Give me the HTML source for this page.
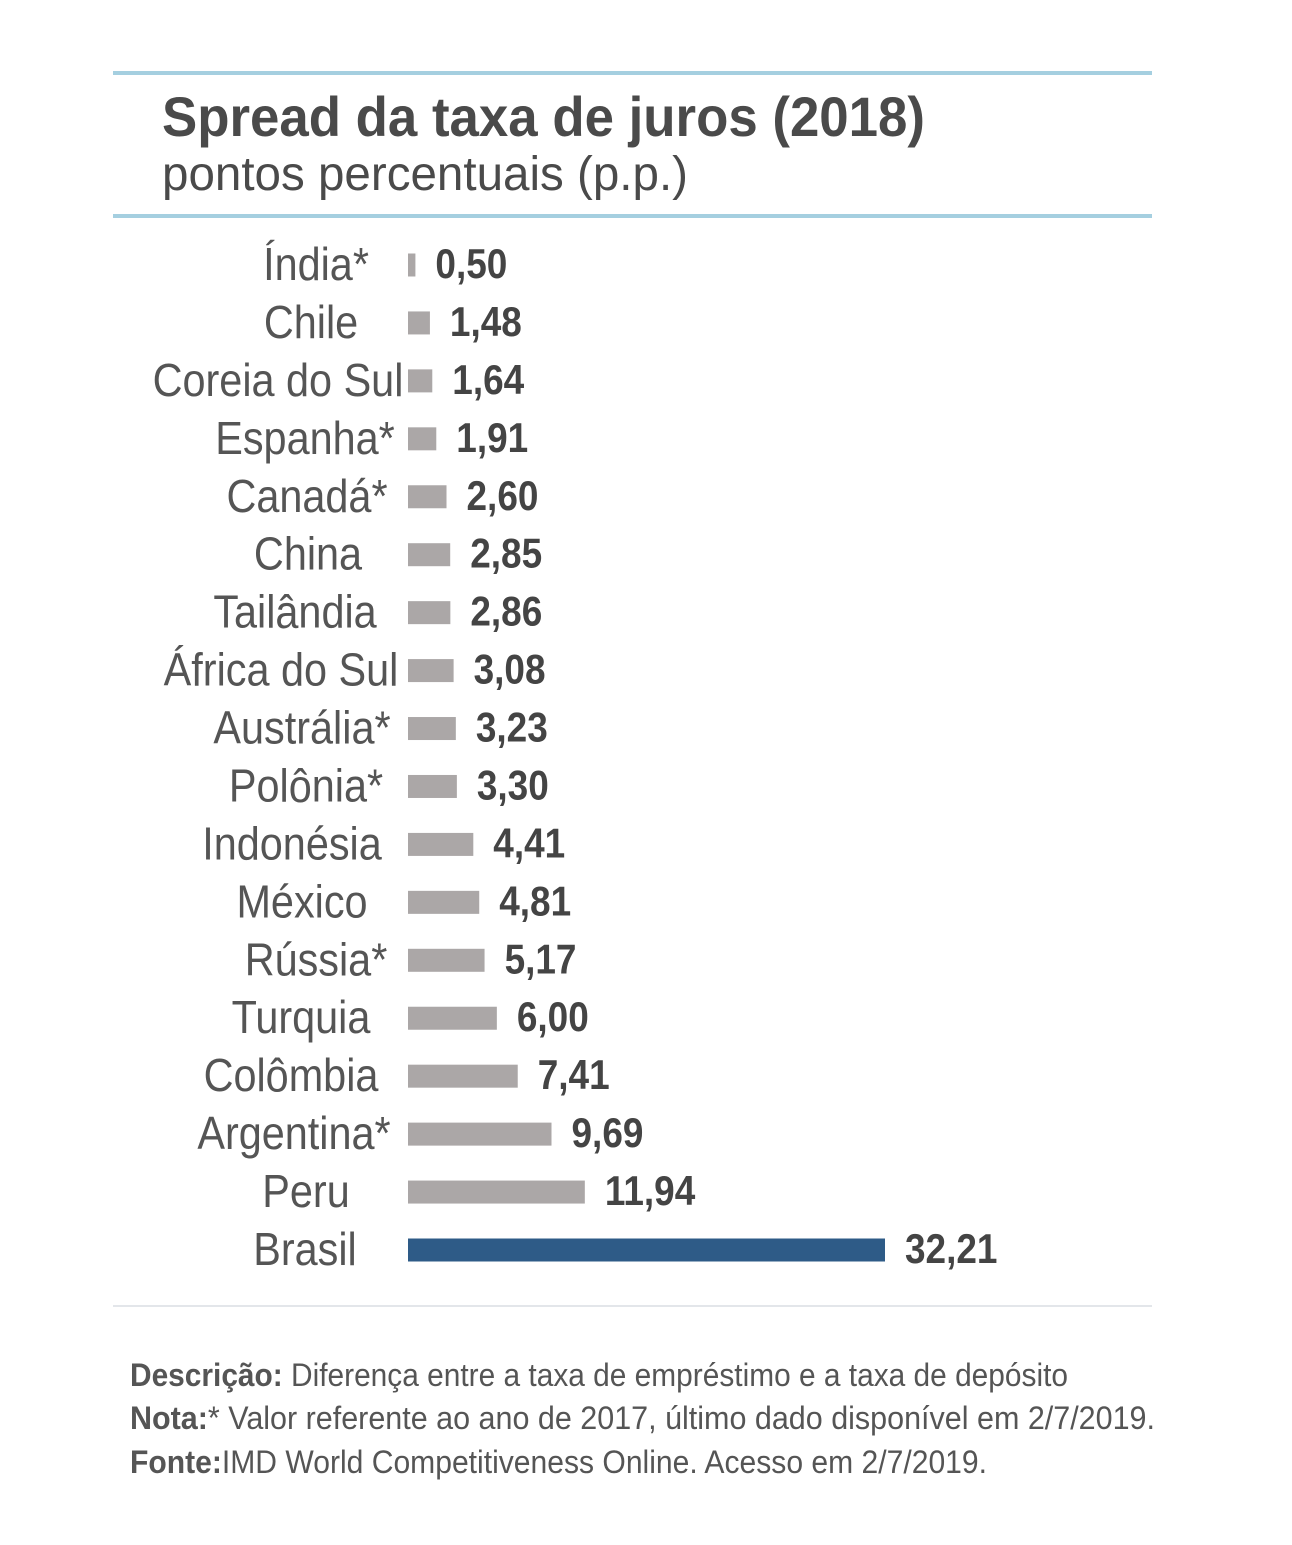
<!DOCTYPE html>
<html><head><meta charset="utf-8"><style>
html,body{margin:0;padding:0;background:#fff;}
svg{display:block;font-family:"Liberation Sans",sans-serif;}
</style></head><body>
<svg id="chart" width="1292" height="1545" viewBox="0 0 1292 1545" xmlns="http://www.w3.org/2000/svg">
<rect x="113" y="71" width="1039" height="4" fill="#a5cfe0"/>
<text x="162" y="136" font-size="56" font-weight="bold" fill="#4a4a4a" textLength="763" lengthAdjust="spacingAndGlyphs">Spread da taxa de juros (2018)</text>
<text x="162" y="190" font-size="48" fill="#4a4a4a" textLength="526" lengthAdjust="spacingAndGlyphs">pontos percentuais (p.p.)</text>
<rect x="113" y="214" width="1039" height="4" fill="#a5cfe0"/>
<g id="bars"></g>
<rect x="113" y="1305" width="1039" height="2" fill="#e3e6ea"/>
<text x="130" y="1386" font-size="32" fill="#555" textLength="938" lengthAdjust="spacingAndGlyphs"><tspan font-weight="bold">Descrição:</tspan>  Diferença entre a taxa de empréstimo e a taxa de depósito</text>
<text x="130" y="1429" font-size="32" fill="#555" textLength="1025" lengthAdjust="spacingAndGlyphs"><tspan font-weight="bold">Nota:</tspan>* Valor referente ao ano de 2017, último dado disponível em 2/7/2019.</text>
<text x="130" y="1473" font-size="32" fill="#555" textLength="857" lengthAdjust="spacingAndGlyphs"><tspan font-weight="bold">Fonte:</tspan>IMD World Competitiveness Online. Acesso em 2/7/2019.</text>
</svg>
<script>
const categories = ["Índia*","Chile","Coreia do Sul","Espanha*","Canadá*","China","Tailândia","África do Sul","Austrália*","Polônia*","Indonésia","México","Rússia*","Turquia","Colômbia","Argentina*","Peru","Brasil"];
const values = [0.50,1.48,1.64,1.91,2.60,2.85,2.86,3.08,3.23,3.30,4.41,4.81,5.17,6.00,7.41,9.69,11.94,32.21];
const valueLabels = ["0,50","1,48","1,64","1,91","2,60","2,85","2,86","3,08","3,23","3,30","4,41","4,81","5,17","6,00","7,41","9,69","11,94","32,21"];
const highlight = "Brasil";
// layout only: horizontal centre of each category label
const labelCenters = [316,311,278,305,307,308,295,281,302,306,292,302,316,301,291,294,306,305];

const NS = "http://www.w3.org/2000/svg";
const g = document.getElementById("bars");
const x0 = 408, pxPerUnit = 477 / 32.21;
const xScale = v => x0 + v * pxPerUnit;
const yScale = i => 265 + i * (1250 - 265) / 17;
const barH = 23;
categories.forEach((c, i) => {
  const yc = yScale(i);
  const r = document.createElementNS(NS, "rect");
  r.setAttribute("x", x0);
  r.setAttribute("y", yc - barH / 2);
  r.setAttribute("width", Math.max(1, xScale(values[i]) - x0));
  r.setAttribute("height", barH);
  r.setAttribute("fill", c === highlight ? "#2e5b87" : "#aba7a7");
  
  
  g.appendChild(r);

  const t = document.createElementNS(NS, "text");
  t.setAttribute("transform", `translate(${labelCenters[i]},${yc + 15}) scale(0.9,1)`);
  t.setAttribute("text-anchor", "middle");
  t.setAttribute("font-size", "46");
  t.setAttribute("fill", "#555");
  t.textContent = c;
  
  
  g.appendChild(t);

  const v = document.createElementNS(NS, "text");
  v.setAttribute("transform", `translate(${xScale(values[i]) + 20},${yc + 13}) scale(0.88,1)`);
  v.setAttribute("font-size", "42");
  v.setAttribute("font-weight", "bold");
  v.setAttribute("fill", "#444");
  v.textContent = valueLabels[i];
  
  
  g.appendChild(v);
});
</script>
</body></html>
